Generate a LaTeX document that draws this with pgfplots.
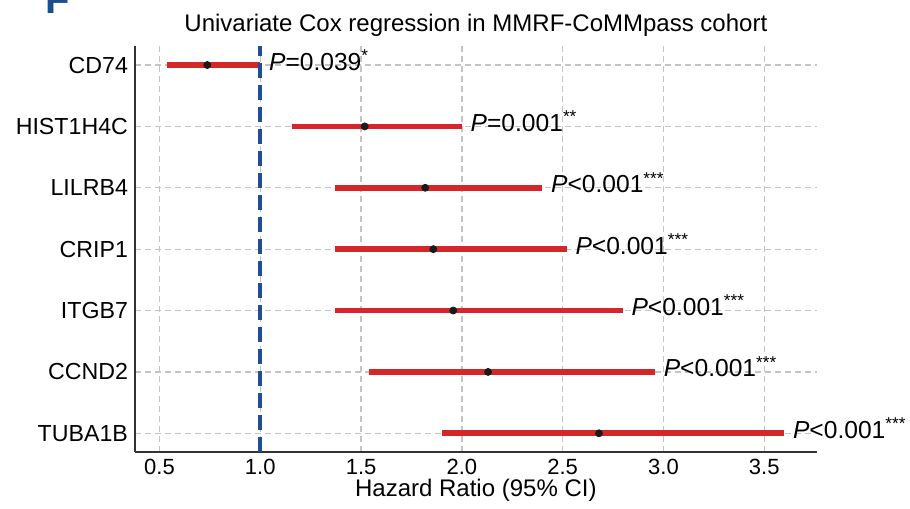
\documentclass[border=0pt]{standalone}
\usepackage{fontspec}
\setmainfont{Liberation Sans}
\usepackage{pgfplots}
\pgfplotsset{compat=1.18}
\usetikzlibrary{calc}
\definecolor{cired}{HTML}{D62728}
\definecolor{refblue}{HTML}{1F4E96}
\definecolor{panelblue}{HTML}{1B4F8A}
\definecolor{spine}{HTML}{333333}
\definecolor{gridgray}{HTML}{C4C4C4}
\definecolor{dotblack}{HTML}{1A1A1A}
\tikzset{
  ci/.style   ={cired, line width=2.85pt, line cap=butt},
  plab/.style ={anchor=base west, inner sep=0pt, xshift=4.2pt, yshift=-2.5pt,
                font=\fontsize{12.3}{14}\selectfont},
}

\begin{document}
\begin{tikzpicture}
\begin{axis}[
  name=ax,
  scale only axis, width=340.85pt, height=203pt,
  xmin=0.3785, xmax=3.76, ymin=-0.305, ymax=6.31,
  axis x line=bottom, axis y line=left,
  axis line style={-, draw=spine, line width=1.25pt},
  xtick={0.5,1,1.5,2,2.5,3,3.5},
  xticklabel={\pgfmathprintnumber[fixed,fixed zerofill,precision=1,assume math mode=true]{\tick}},
  ytick={0,...,6},
  yticklabels={TUBA1B,CCND2,ITGB7,CRIP1,LILRB4,HIST1H4C,CD74},
  xticklabel style={font=\fontsize{11}{13}\selectfont},
  yticklabel style={font=\fontsize{11.6}{13}\selectfont},
  major tick length=0pt, tick style={draw=none},
  grid=major, grid style={gridgray, line width=0.65pt, dash pattern=on 3pt off 2pt},
  clip=false,
  title={Univariate Cox regression in MMRF-CoMMpass cohort},
  title style={at={(axis description cs:0.5,1)}, anchor=base, yshift=1.15pt,
               font=\fontsize{12}{14}\selectfont},
  xlabel={Hazard Ratio (95\% CI)},
  xlabel style={at={(axis description cs:0.5,0)}, anchor=base, yshift=-22.35pt,
                font=\fontsize{12}{14}\selectfont},
]
% 95% CI bars
\addplot[ci] coordinates {(0.537,6) (1.000,6)};
\addplot[ci] coordinates {(1.159,5) (2.000,5)};
\addplot[ci] coordinates {(1.369,4) (2.399,4)};
\addplot[ci] coordinates {(1.369,3) (2.520,3)};
\addplot[ci] coordinates {(1.369,2) (2.798,2)};
\addplot[ci] coordinates {(1.541,1) (2.958,1)};
\addplot[ci] coordinates {(1.900,0) (3.599,0)};
% HR = 1 reference
\addplot[refblue, line width=2.2pt, dash pattern=on 7.5pt off 3.5pt]
  coordinates {(1,-0.305) (1,6.31)};
% point estimates
\addplot[only marks, mark=*, mark size=1.75pt, dotblack]
  coordinates {(0.737,6) (1.518,5) (1.818,4) (1.858,3) (1.957,2) (2.130,1) (2.680,0)};
\node[plab] at (axis cs:1.000,6) {\textit{P}=0.039\textsuperscript{*}};
\node[plab] at (axis cs:2.000,5) {\textit{P}=0.001\textsuperscript{**}};
\node[plab] at (axis cs:2.399,4) {\textit{P}<0.001\textsuperscript{***}};
\node[plab] at (axis cs:2.520,3) {\textit{P}<0.001\textsuperscript{***}};
\node[plab] at (axis cs:2.798,2) {\textit{P}<0.001\textsuperscript{***}};
\node[plab] at (axis cs:2.958,1) {\textit{P}<0.001\textsuperscript{***}};
\node[plab] at (axis cs:3.599,0) {\textit{P}<0.001\textsuperscript{***}};
\end{axis}
\pgfresetboundingbox
\path[use as bounding box] ($(ax.south west)+(-67.5pt,-28pt)$) rectangle ($(ax.north east)+(46.65pt,23pt)$);
\node[anchor=base west, inner sep=0pt, text=panelblue, font=\bfseries\fontsize{20}{24}\selectfont]
  at ($(ax.north west)+(-44.9pt,16.5pt)$) {F};
\end{tikzpicture}
\end{document}
